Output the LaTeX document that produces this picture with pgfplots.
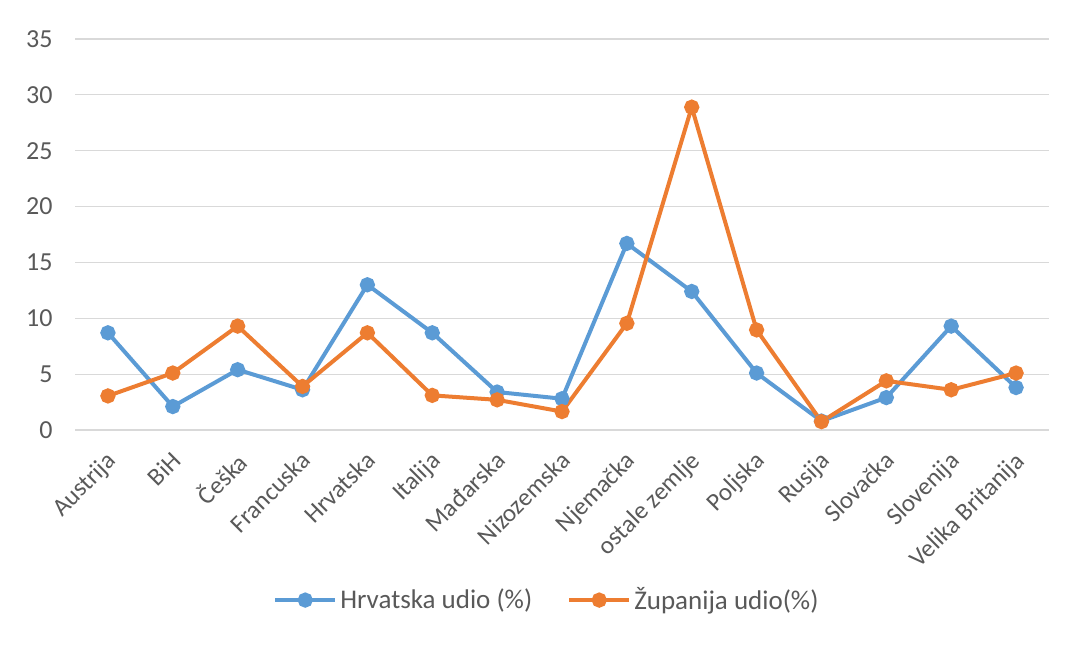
\documentclass[border=0pt]{standalone}
\usepackage{pgfplots}
\pgfplotsset{compat=1.18}
\usepackage{fontspec}
\setmainfont{Carlito}
\definecolor{cblue}{HTML}{5B9BD5}
\definecolor{corange}{HTML}{ED7D31}
\definecolor{tickgray}{HTML}{595959}
\definecolor{gridgray}{HTML}{D9D9D9}
\begin{document}
\begin{tikzpicture}
\useasboundingbox (0,0) rectangle (535.5pt,322pt);
\begin{axis}[
  at={(37.75pt,107pt)}, anchor=south west,
  scale only axis, width=486.5pt, height=195.5pt,
  xmin=-0.5, xmax=14.5, ymin=0, ymax=35,
  ytick={0,5,...,35},
  xtick={0,...,14},
  xticklabels={Austrija,BiH,Češka,Francuska,Hrvatska,Italija,Mađarska,Nizozemska,Njemačka,ostale zemlje,Poljska,Rusija,Slovačka,Slovenija,Velika Britanija},
  x tick label style={rotate=45, anchor=north east, font=\fontsize{12.5}{15}\selectfont, text=tickgray, inner sep=1pt, xshift=-2pt},
  y tick label style={font=\fontsize{13}{15}\selectfont, text=tickgray},
  /pgf/number format/assume math mode=true,
  axis line style={draw=none},
  major tick length=0pt,
  ymajorgrids, grid style={gridgray, line width=0.6pt},
  xticklabel shift=7pt,
  yticklabel shift=8pt,
  clip=false,
  legend style={at={(0.485,-0.435)}, anchor=center, draw=none, fill=none,
    legend columns=2, font=\fontsize{13.5}{15}\selectfont, text=tickgray,
    /tikz/every even column/.append style={column sep=16pt},
    nodes={inner xsep=1.5pt}},
  legend cell align=left,
  legend image code/.code={\draw[#1] (0pt,0pt) -- (30pt,0pt) plot coordinates {(15pt,0pt)};},
]
\addplot[cblue, line width=2pt, mark=*, mark size=2.8pt, mark options={fill=cblue, draw=cblue}]
coordinates {(0,8.7)(1,2.1)(2,5.4)(3,3.6)(4,13.0)(5,8.7)(6,3.4)(7,2.8)(8,16.7)(9,12.4)(10,5.1)(11,0.8)(12,2.9)(13,9.3)(14,3.8)};
\addlegendentry{Hrvatska udio (\%)}
\addplot[corange, line width=2pt, mark=*, mark size=2.8pt, mark options={fill=corange, draw=corange}]
coordinates {(0,3.05)(1,5.1)(2,9.3)(3,3.9)(4,8.7)(5,3.1)(6,2.7)(7,1.65)(8,9.55)(9,28.9)(10,8.96)(11,0.75)(12,4.4)(13,3.6)(14,5.1)};
\addlegendentry{Županija udio(\%)}
\end{axis}
\end{tikzpicture}
\end{document}
